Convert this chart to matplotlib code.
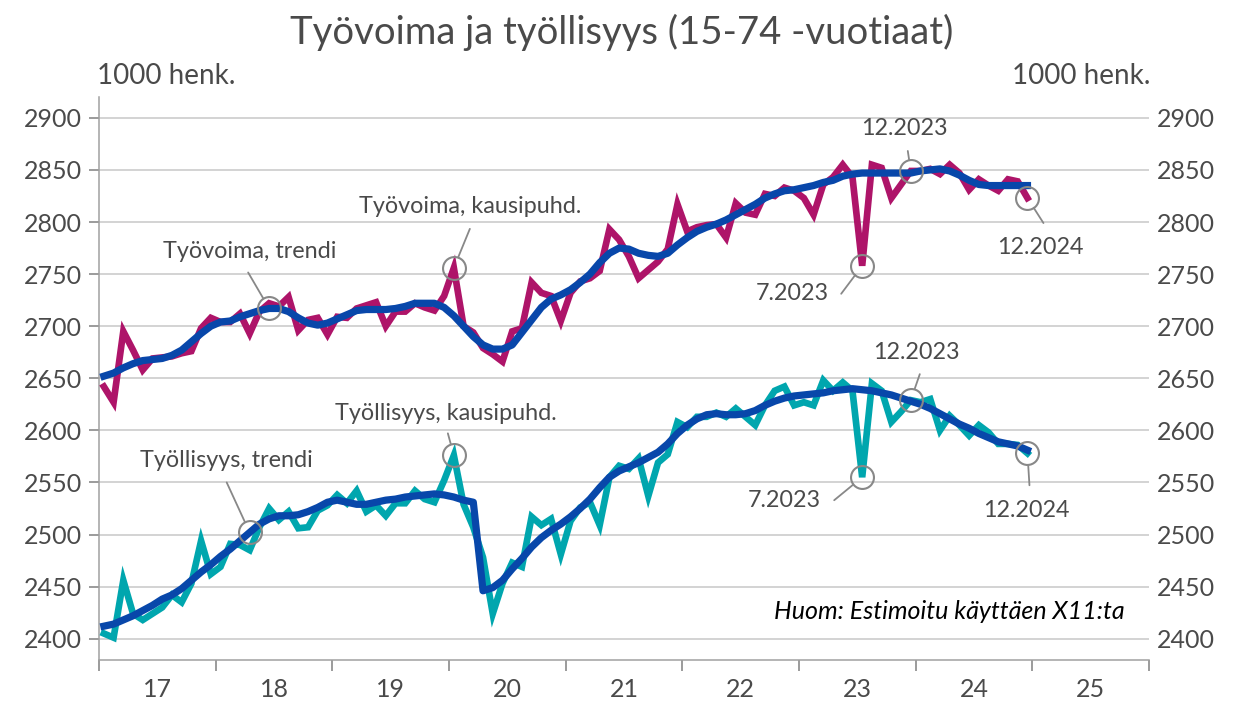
import numpy as np
import matplotlib.pyplot as plt

plt.rcParams['font.family'] = ['Lato', 'DejaVu Sans']

# Monthly data 1/2017 - 12/2024, 1000 persons
tyovoima_kausi = [
    2642, 2627, 2695, 2677, 2658, 2669, 2670, 2671, 2674, 2676, 2698, 2708,
    2704, 2704, 2712, 2693, 2714, 2722, 2719, 2728, 2696, 2706, 2708, 2692,
    2709, 2708, 2717, 2720, 2723, 2700, 2714, 2714, 2722, 2718, 2715, 2729,
    2756, 2700, 2694, 2679, 2673, 2666, 2695, 2698, 2742, 2732, 2729, 2705,
    2732, 2743, 2746, 2753, 2793, 2783, 2767, 2746, 2754, 2762, 2774, 2817,
    2791, 2795, 2797, 2798, 2785, 2818, 2809, 2807, 2827, 2825, 2833, 2830,
    2823, 2807, 2836, 2843, 2855, 2843, 2758, 2855, 2852, 2823, 2836, 2849,
    2849, 2851, 2846, 2855, 2847, 2831, 2841, 2835, 2830, 2841, 2839, 2823,
]
tyovoima_trendi = [
    2652, 2655, 2660, 2664, 2667, 2668, 2669, 2672, 2677, 2685, 2693, 2700,
    2704, 2705, 2709, 2712, 2715, 2717, 2717, 2714, 2708, 2703, 2701, 2703,
    2707, 2711, 2715, 2716, 2716, 2716, 2717, 2719, 2722, 2722, 2722, 2718,
    2710, 2700, 2690, 2682, 2678, 2678, 2682, 2694, 2706, 2718, 2726, 2730,
    2735, 2742, 2750, 2761, 2770, 2775, 2774, 2770, 2768, 2767, 2770, 2778,
    2785, 2791, 2795, 2798, 2802, 2807, 2812, 2817, 2823, 2827, 2830, 2831,
    2833, 2835, 2838, 2840, 2844, 2846, 2847, 2847, 2847, 2847, 2847, 2847,
    2849, 2850, 2851, 2849, 2845, 2840, 2836, 2835, 2835, 2835, 2835, 2835,
]
tyollisyys_kausi = [
    2405, 2401, 2456, 2424, 2418, 2424, 2430, 2442, 2435, 2453, 2494, 2462,
    2469, 2491, 2490, 2485, 2507, 2525, 2514, 2522, 2506, 2507, 2523, 2528,
    2538, 2530, 2542, 2522, 2528, 2518, 2530, 2530, 2542, 2534, 2531, 2552,
    2576, 2529, 2507, 2478, 2424, 2453, 2473, 2469, 2517, 2509, 2515, 2481,
    2513, 2526, 2531, 2509, 2555, 2566, 2563, 2573, 2537, 2569, 2577, 2608,
    2603, 2613, 2613, 2617, 2613, 2621, 2613, 2605, 2624, 2638, 2642, 2624,
    2627, 2624, 2648, 2638, 2646, 2638, 2555, 2645, 2638, 2608, 2618, 2629,
    2627, 2630, 2600, 2614, 2605, 2595, 2605, 2598, 2587, 2587, 2586, 2578,
]
tyollisyys_trendi = [
    2412, 2414, 2418, 2422, 2427, 2432, 2438, 2442, 2448, 2456, 2464, 2471,
    2479, 2486, 2494, 2502, 2510, 2515, 2518, 2518, 2519, 2522, 2526, 2531,
    2533, 2531, 2529, 2529, 2531, 2533, 2534, 2536, 2537, 2538, 2539, 2538,
    2536, 2533, 2531, 2446, 2449, 2456, 2467, 2477, 2488, 2497, 2504, 2510,
    2517, 2525, 2534, 2545, 2555, 2561, 2565, 2569, 2574, 2579, 2587, 2597,
    2605, 2611, 2615, 2616, 2615, 2615, 2616, 2619, 2624, 2628, 2631, 2633,
    2634, 2635, 2636, 2638, 2639, 2640, 2639, 2638, 2636, 2634, 2631, 2628,
    2625, 2621, 2616, 2611, 2606, 2602, 2597, 2593, 2589, 2587, 2585, 2581,
]
vuodet = ['17', '18', '19', '20', '21', '22', '23', '24', '25']

PURPLE = '#AE1469'
TEAL = '#00A6AE'
BLUE = '#0847AA'
GREY = '#4A4A4A'
CIRCLE = '#888888'

x = np.arange(len(tyovoima_kausi)) + 0.5

fig = plt.figure(figsize=(12.36, 7.05), dpi=100)
ax = fig.add_axes([0.0801, 0.0645, 0.8495, 0.7979])

ax.plot(x, tyovoima_kausi, color=PURPLE, lw=4.8, solid_joinstyle='miter', zorder=3)
ax.plot(x, tyollisyys_kausi, color=TEAL, lw=4.8, solid_joinstyle='miter', zorder=3)
ax.plot(x, tyovoima_trendi, color=BLUE, lw=5.2, zorder=4)
ax.plot(x, tyollisyys_trendi, color=BLUE, lw=5.2, zorder=4)

ax.set_xlim(0, 108)
ax.set_ylim(2380, 2920)
ax.set_yticks(np.arange(2400, 2901, 50))
ax.grid(axis='y', color='#C8C8C8', lw=1.1)
ax.set_axisbelow(True)

ax.set_xticks(np.arange(0, 109, 12))
ax.set_xticklabels([])
ax.set_xticks(np.arange(6, 108, 12), minor=True)
ax.set_xticklabels(vuodet, minor=True)
ax.tick_params(axis='x', which='major', length=8, color='#808080', width=1.1)
ax.tick_params(axis='x', which='minor', length=0, pad=13, labelsize=18, labelcolor=GREY)
ax.tick_params(axis='y', length=7, color='#808080', width=1.1, labelsize=18, labelcolor=GREY, pad=5)

for s in ['top', 'right']:
    ax.spines[s].set_visible(False)
for s in ['left', 'bottom']:
    ax.spines[s].set_color('#A0A0A0')
    ax.spines[s].set_linewidth(1.1)

ax2 = ax.twinx()
ax2.set_ylim(ax.get_ylim())
ax2.set_yticks(np.arange(2400, 2901, 50))
ax2.tick_params(axis='y', length=0, labelsize=18, labelcolor=GREY, pad=6)
for s in ['top', 'left', 'bottom', 'right']:
    ax2.spines[s].set_visible(False)

# Annotations: (series, month index, text, text offset px, line start offset px)
notes = [
    (tyovoima_trendi, 17, 'Työvoima, trendi', (-19, 57), (-21, 36)),
    (tyovoima_kausi, 36, 'Työvoima, kausipuhd.', (16, 61), (16, 39)),
    (tyovoima_kausi, 83, '12.2023', (-6, 42), (-3, 20)),
    (tyovoima_kausi, 78, '7.2023', (-70, -28), (-21, -28)),
    (tyovoima_kausi, 95, '12.2024', (13, -49), (16, -25)),
    (tyollisyys_trendi, 15, 'Työllisyys, trendi', (-23, 72), (-23, 50)),
    (tyollisyys_kausi, 36, 'Työllisyys, kausipuhd.', (-8, 42), (-6, 22)),
    (tyollisyys_kausi, 83, '12.2023', (6, 48), (9, 26)),
    (tyollisyys_kausi, 78, '7.2023', (-78, -23), (-28, -23)),
    (tyollisyys_kausi, 95, '12.2024', (-1, -57), (2, -32)),
]
for serie, i, teksti, toff, loff in notes:
    px, py = x[i], serie[i]
    ax.plot(px, py, 'o', ms=16.5, mfc='none', mec=CIRCLE, mew=1.5, zorder=5)
    ax.annotate('', xy=(px, py), xytext=loff, textcoords='offset pixels',
                arrowprops=dict(arrowstyle='-', color=CIRCLE, lw=1.3,
                                shrinkA=0, shrinkB=8.3), zorder=5)
    ax.annotate(teksti, xy=(px, py), xytext=toff, textcoords='offset pixels',
                ha='center', va='center', fontsize=16.8, color=GREY, zorder=6)

ax.text(0.977, 0.085, 'Huom: Estimoitu käyttäen X11:ta', transform=ax.transAxes,
        ha='right', va='center', fontsize=18, style='italic', color='black')

fig.text(0.503, 1 - 32 / 705, 'Työvoima ja työllisyys (15-74 -vuotiaat)',
         ha='center', va='center', fontsize=27.5, color=GREY)
fig.text(97 / 1236, 1 - 76 / 705, '1000 henk.', ha='left', va='center',
         fontsize=20, color=GREY)
fig.text(1150 / 1236, 1 - 76 / 705, '1000 henk.', ha='right', va='center',
         fontsize=20, color=GREY)

plt.savefig('out.png', dpi=100)
